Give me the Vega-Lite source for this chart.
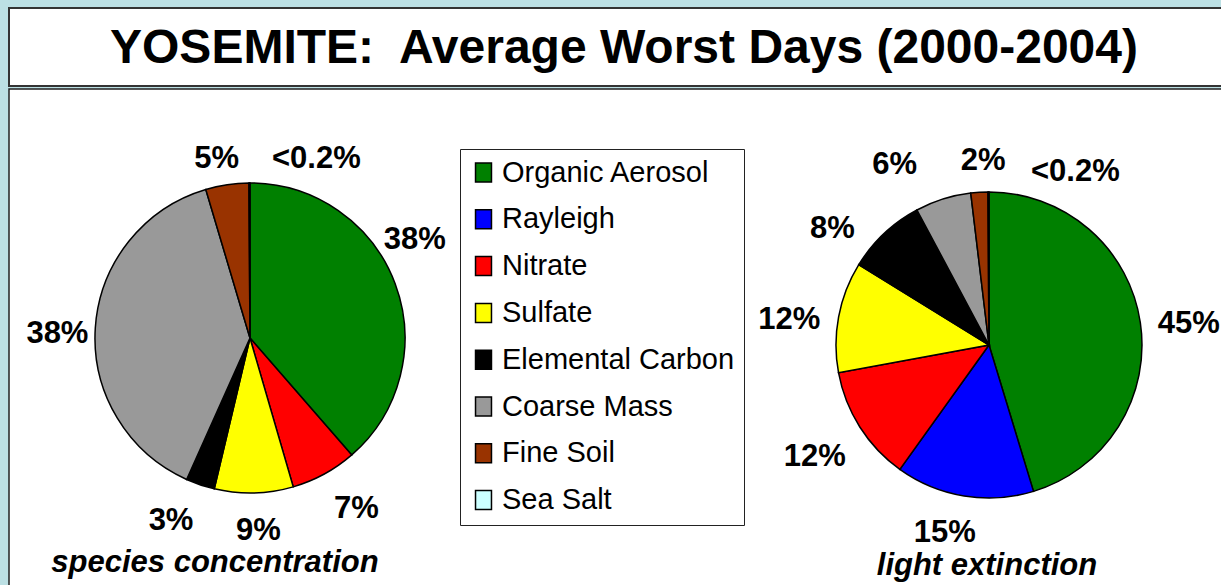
{
  "$schema": "https://vega.github.io/schema/vega-lite/v6.json",
  "background": "#bce0e4",
  "padding": {"left": 8, "top": 7, "right": -17, "bottom": -9},
  "spacing": 1,
  "config": {"view": {"stroke": null}, "font": "Liberation Sans", "text": {"fontWeight": "bold", "fontSize": 31, "color": "black"}},
  "datasets": {
    "slices": [
      {"chart": "species concentration", "species": "Organic Aerosol", "idx": 1, "value": 38.6, "label": "38%"},
      {"chart": "species concentration", "species": "Nitrate", "idx": 3, "value": 6.9, "label": "7%"},
      {"chart": "species concentration", "species": "Sulfate", "idx": 4, "value": 8.2, "label": "9%"},
      {"chart": "species concentration", "species": "Elemental Carbon", "idx": 5, "value": 3.0, "label": "3%"},
      {"chart": "species concentration", "species": "Coarse Mass", "idx": 6, "value": 38.7, "label": "38%"},
      {"chart": "species concentration", "species": "Fine Soil", "idx": 7, "value": 4.5, "label": "5%"},
      {"chart": "species concentration", "species": "Sea Salt", "idx": 8, "value": 0.1, "label": "<0.2%"},
      {"chart": "light extinction", "species": "Organic Aerosol", "idx": 1, "value": 45.3, "label": "45%"},
      {"chart": "light extinction", "species": "Rayleigh", "idx": 2, "value": 14.6, "label": "15%"},
      {"chart": "light extinction", "species": "Nitrate", "idx": 3, "value": 12.2, "label": "12%"},
      {"chart": "light extinction", "species": "Sulfate", "idx": 4, "value": 11.7, "label": "12%"},
      {"chart": "light extinction", "species": "Elemental Carbon", "idx": 5, "value": 8.4, "label": "8%"},
      {"chart": "light extinction", "species": "Coarse Mass", "idx": 6, "value": 5.9, "label": "6%"},
      {"chart": "light extinction", "species": "Fine Soil", "idx": 7, "value": 1.8, "label": "2%"},
      {"chart": "light extinction", "species": "Sea Salt", "idx": 8, "value": 0.1, "label": "<0.2%"}
    ]
  },
  "resolve": {"scale": {"color": "independent"}, "legend": {"color": "independent"}},
  "vconcat": [
    {
      "width": 1230,
      "height": 78,
      "view": {"fill": "white", "stroke": "#333333", "strokeWidth": 2},
      "data": {"values": [{"t": "YOSEMITE:\u00a0 Average Worst Days (2000-2004)"}]},
      "mark": {"type": "text", "font": "Liberation Sans", "fontWeight": "bold", "fontSize": 48, "color": "black", "baseline": "middle", "align": "center", "dy": 2},
      "encoding": {"text": {"field": "t", "type": "nominal"}}
    },
    {
      "width": 1230,
      "height": 504,
      "view": {"fill": "white", "stroke": "#222222", "strokeWidth": 1.5},
      "data": {"name": "slices"},
      "encoding": {
        "x": {"field": "chart", "type": "nominal", "axis": null,
              "scale": {"type": "point", "domain": ["species concentration", "light extinction"], "padding": 0.3322, "align": 0.4908}},
        "theta": {"field": "value", "type": "quantitative", "stack": true},
        "order": {"field": "idx", "type": "quantitative"}
      },
      "layer": [
        {
          "transform": [{"filter": "datum.chart === 'species concentration'"}],
          "mark": {"type": "arc", "radius": 155, "stroke": "black", "strokeWidth": 1.5, "yOffset": -3},
          "encoding": {
            "color": {"field": "species", "type": "nominal",
              "scale": {"domain": ["Organic Aerosol", "Rayleigh", "Nitrate", "Sulfate", "Elemental Carbon", "Coarse Mass", "Fine Soil", "Sea Salt"],
                        "range": ["#008000", "#0000ff", "#ff0000", "#ffff00", "#000000", "#999999", "#993300", "#ccffff"]},
              "legend": {"title": null, "orient": "none", "legendX": 451, "legendY": 60,
                         "symbolType": "M-0.84,-1H0.84V1H-0.84Z", "symbolSize": 361,
                         "symbolStrokeColor": "black", "symbolStrokeWidth": 1.5, "symbolOpacity": 1,
                         "labelFont": "Liberation Sans", "labelFontSize": 29, "labelColor": "black",
                         "labelOffset": 4, "rowPadding": 16.8, "padding": 9, "labelLimit": 400,
                         "strokeColor": "#222222", "fillColor": "white"}}
          }
        },
        {
          "transform": [{"filter": "datum.chart === 'light extinction'"}],
          "mark": {"type": "arc", "radius": 153, "stroke": "black", "strokeWidth": 1.5, "yOffset": 4},
          "encoding": {"color": {"field": "species", "type": "nominal"}}
        },
        {"transform": [{"filter": "datum.chart === 'species concentration'"}], "mark": {"type": "text", "radius": 193, "dx": -16, "dy": -33.5},
         "encoding": {"text": {"condition": {"test": "datum.species === 'Organic Aerosol'", "field": "label"}, "value": ""}, "detail": {"field": "species"}}},
        {"transform": [{"filter": "datum.chart === 'species concentration'"}], "mark": {"type": "text", "radius": 193, "dx": 14, "dy": -1.5},
         "encoding": {"text": {"condition": {"test": "datum.species === 'Nitrate'", "field": "label"}, "value": ""}, "detail": {"field": "species"}}},
        {"transform": [{"filter": "datum.chart === 'species concentration'"}], "mark": {"type": "text", "radius": 193, "dx": 3.5, "dy": -3},
         "encoding": {"text": {"condition": {"test": "datum.species === 'Sulfate'", "field": "label"}, "value": ""}, "detail": {"field": "species"}}},
        {"transform": [{"filter": "datum.chart === 'species concentration'"}], "mark": {"type": "text", "radius": 193, "dx": -17, "dy": -2.5},
         "encoding": {"text": {"condition": {"test": "datum.species === 'Elemental Carbon'", "field": "label"}, "value": ""}, "detail": {"field": "species"}}},
        {"transform": [{"filter": "datum.chart === 'species concentration'"}], "mark": {"type": "text", "radius": 193, "dx": 0, "dy": 6},
         "encoding": {"text": {"condition": {"test": "datum.species === 'Coarse Mass'", "field": "label"}, "value": ""}, "detail": {"field": "species"}}},
        {"transform": [{"filter": "datum.chart === 'species concentration'"}], "mark": {"type": "text", "radius": 193, "dx": -5, "dy": 9},
         "encoding": {"text": {"condition": {"test": "datum.species === 'Fine Soil'", "field": "label"}, "value": ""}, "detail": {"field": "species"}}},
        {"transform": [{"filter": "datum.chart === 'species concentration'"}], "mark": {"type": "text", "radius": 193, "dx": 67, "dy": 11},
         "encoding": {"text": {"condition": {"test": "datum.species === 'Sea Salt'", "field": "label"}, "value": ""}, "detail": {"field": "species"}}},
        {"transform": [{"filter": "datum.chart === 'light extinction'"}], "mark": {"type": "text", "radius": 198, "dx": 4, "dy": 12},
         "encoding": {"text": {"condition": {"test": "datum.species === 'Organic Aerosol'", "field": "label"}, "value": ""}, "detail": {"field": "species"}}},
        {"transform": [{"filter": "datum.chart === 'light extinction'"}], "mark": {"type": "text", "radius": 198, "dx": -12, "dy": -3},
         "encoding": {"text": {"condition": {"test": "datum.species === 'Rayleigh'", "field": "label"}, "value": ""}, "detail": {"field": "species"}}},
        {"transform": [{"filter": "datum.chart === 'light extinction'"}], "mark": {"type": "text", "radius": 198, "dx": -7, "dy": 10},
         "encoding": {"text": {"condition": {"test": "datum.species === 'Nitrate'", "field": "label"}, "value": ""}, "detail": {"field": "species"}}},
        {"transform": [{"filter": "datum.chart === 'light extinction'"}], "mark": {"type": "text", "radius": 198, "dx": -5, "dy": 15},
         "encoding": {"text": {"condition": {"test": "datum.species === 'Sulfate'", "field": "label"}, "value": ""}, "detail": {"field": "species"}}},
        {"transform": [{"filter": "datum.chart === 'light extinction'"}], "mark": {"type": "text", "radius": 198, "dx": -21, "dy": 32.5},
         "encoding": {"text": {"condition": {"test": "datum.species === 'Elemental Carbon'", "field": "label"}, "value": ""}, "detail": {"field": "species"}}},
        {"transform": [{"filter": "datum.chart === 'light extinction'"}], "mark": {"type": "text", "radius": 198, "dx": -35, "dy": 12.5},
         "encoding": {"text": {"condition": {"test": "datum.species === 'Coarse Mass'", "field": "label"}, "value": ""}, "detail": {"field": "species"}}},
        {"transform": [{"filter": "datum.chart === 'light extinction'"}], "mark": {"type": "text", "radius": 198, "dx": 6.5, "dy": 17.5},
         "encoding": {"text": {"condition": {"test": "datum.species === 'Fine Soil'", "field": "label"}, "value": ""}, "detail": {"field": "species"}}},
        {"transform": [{"filter": "datum.chart === 'light extinction'"}], "mark": {"type": "text", "radius": 198, "dx": 87, "dy": 29},
         "encoding": {"text": {"condition": {"test": "datum.species === 'Sea Salt'", "field": "label"}, "value": ""}, "detail": {"field": "species"}}},
        {
          "data": {"values": [{"chart": "species concentration"}]},
          "mark": {"type": "text", "fontStyle": "italic", "dx": -35, "dy": 222},
          "encoding": {"theta": null, "order": null, "text": {"field": "chart"}}
        },
        {
          "data": {"values": [{"chart": "light extinction"}]},
          "mark": {"type": "text", "fontStyle": "italic", "dx": -2, "dy": 225},
          "encoding": {"theta": null, "order": null, "text": {"field": "chart"}}
        }
      ]
    }
  ]
}
